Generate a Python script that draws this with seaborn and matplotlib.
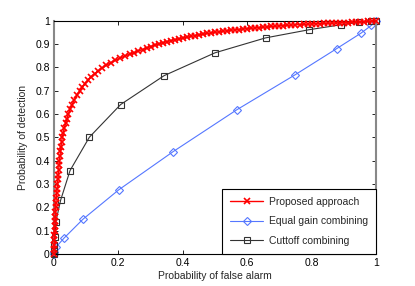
import matplotlib
matplotlib.use("Agg")
import matplotlib.pyplot as plt
import seaborn as sns

# Proposed approach (dense ROC curve)
prop_x = [0, .0004, .0008, .0012, .0016, .002, .0028, .0036, .0044, .0048, .005, .006,
          .0072, .0084, .0096, .011, .0122, .0134, .0146, .0158, .017, .0186, .0202,
          .0218, .0236, .026,
          .029, .032, .036, .040, .045, .050, .056, .063, .071, .080, .088, .096, .105,
          .115, .126, .138, .150, .163, .177, .191, .205, .220, .235, .250,
          .2625, .275, .2875, .30, .3125, .325, .3375, .35, .3625, .375, .3875, .40,
          .4125, .425, .4375, .45, .4625, .475, .4875, .50, .5125, .525, .5375, .55,
          .5625, .575, .5875, .60, .6125, .625, .6375, .65, .6625, .675, .6875, .70,
          .7125, .725, .7375, .75, .7625, .775, .7875, .80, .8125, .825, .8375, .85,
          .8625, .875, .8875, .90, .9125, .925, .9375, .95, .9625, .975, .9875, 1.0]
prop_y = [0, .02, .04, .06, .08, .10, .12, .14, .16, .18, .20, .22, .24, .26, .28, .30,
          .32, .34, .36, .38, .40, .42, .44, .46, .48, .50,
          .52, .54, .56, .58, .60, .62, .64, .66, .68, .70, .715, .73, .745, .76, .773,
          .786, .798, .81, .821, .831, .840, .849, .857, .864,
          .871, .877, .884, .890, .895, .901, .906, .911, .915, .919, .923, .926, .930,
          .933, .937, .940, .943, .946, .948, .951, .953, .955, .958, .960, .962, .963,
          .965, .967, .968, .970, .971, .973, .974, .976, .977, .979, .980, .981, .982,
          .983, .984, .985, .986, .987, .988, .988, .989, .990, .990, .991, .992, .993,
          .993, .994, .995, .996, .997, .998, .999, 1.0]

# Equal gain combining
egc_x = [0, 0.001, 0.006, 0.032, 0.090, 0.201, 0.370, 0.567, 0.748, 0.878, 0.953, 0.986, 1.0]
egc_y = [0, 0.008, 0.029, 0.069, 0.149, 0.275, 0.439, 0.618, 0.768, 0.881, 0.947, 0.981, 1.0]

# Cuttoff combining
cut_x = [0, 0, 0, 0.001, 0.003, 0.006, 0.021, 0.050, 0.110, 0.207, 0.342, 0.500,
         0.657, 0.792, 0.890, 0.948, 0.986, 1.0]
cut_y = [0, 0.005, 0.017, 0.039, 0.074, 0.139, 0.232, 0.358, 0.501, 0.641, 0.765,
         0.863, 0.927, 0.962, 0.983, 0.994, 0.999, 1.0]

sns.set_style("white")
plt.rcParams['font.family'] = ['Liberation Sans', 'DejaVu Sans']

fig = plt.figure(figsize=(4.15, 2.86), dpi=100)
ax = fig.add_axes([0.130, 0.112, 0.776, 0.815])

sns.lineplot(x=prop_x, y=prop_y, ax=ax, sort=False, estimator=None, color='red',
             linewidth=1.0, marker='x', markersize=5, markeredgewidth=1.2,
             markeredgecolor='red', label='Proposed approach', clip_on=False, zorder=3)
sns.lineplot(x=egc_x, y=egc_y, ax=ax, sort=False, estimator=None, color='#5577ff',
             linewidth=0.8, marker='D', markersize=4.5, markerfacecolor='none',
             markeredgecolor='#5577ff', markeredgewidth=0.8,
             label='Equal gain combining', clip_on=False, zorder=2)
sns.lineplot(x=cut_x, y=cut_y, ax=ax, sort=False, estimator=None, color='#333333',
             linewidth=0.8, marker='s', markersize=4.5, markerfacecolor='none',
             markeredgecolor='#333333', markeredgewidth=0.8,
             label='Cuttoff combining', clip_on=False, zorder=2)

ax.set_xlim(0, 1)
ax.set_ylim(0, 1)
ax.set_xticks([0, 0.2, 0.4, 0.6, 0.8, 1])
ax.set_xticklabels(['0', '0.2', '0.4', '0.6', '0.8', '1'])
ax.set_yticks([i / 10 for i in range(11)])
ax.set_yticklabels(['0', '0.1', '0.2', '0.3', '0.4', '0.5', '0.6', '0.7', '0.8', '0.9', '1'])
ax.tick_params(direction='in', length=3, width=0.6, labelsize=7.5, top=True, right=True,
               bottom=True, left=True, pad=3, colors='black')
for side in ['top', 'bottom']:
    ax.spines[side].set_color('black')
    ax.spines[side].set_linewidth(0.8)
for side in ['left', 'right']:
    ax.spines[side].set_color('#888888')
    ax.spines[side].set_linewidth(1.5)

ax.set_xlabel('Probability of false alarm', fontsize=7.5, labelpad=2)
ax.set_ylabel('Probability of detection', fontsize=7.5, labelpad=5)

leg = ax.legend(loc='lower right', borderaxespad=0, fontsize=7.5, fancybox=False,
                handlelength=3.2, labelspacing=0.9, borderpad=0.8, handletextpad=0.5)
leg.get_frame().set_edgecolor('black')
leg.get_frame().set_linewidth(0.8)
leg.get_frame().set_alpha(1)

fig.savefig('out.png', dpi=100)
